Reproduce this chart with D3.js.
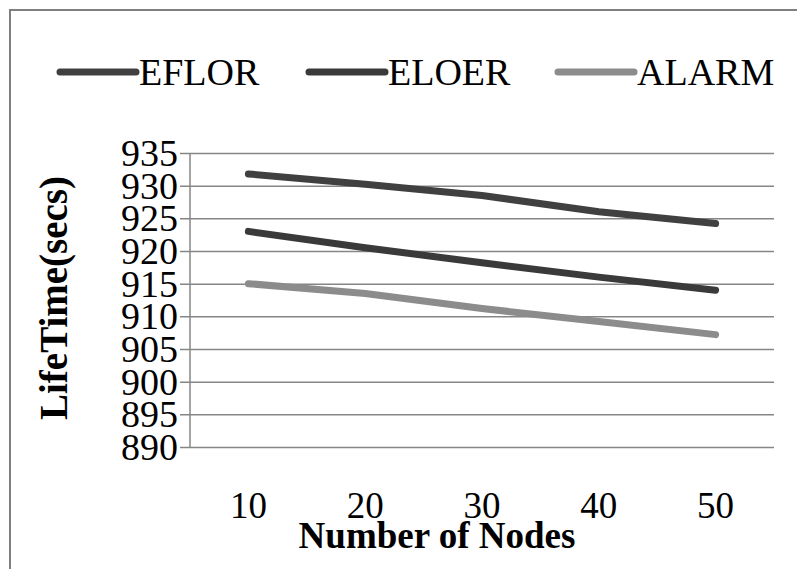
<!DOCTYPE html>
<html>
<head>
<meta charset="utf-8">
<script src="https://cdn.jsdelivr.net/npm/d3@7"></script>
<style>
    body { margin: 0; background: #fff; }
    svg { display: block; }
</style>
</head>
<body>
<div id="chart"></div>
<script>
const nodes = ["10", "20", "30", "40", "50"];
const eflor = [931.8, 930.2, 928.5, 926.0, 924.2];
const eloer = [923.0, 920.5, 918.2, 916.0, 914.0];
const alarm = [915.0, 913.5, 911.2, 909.2, 907.2];
const yTicks = [890, 895, 900, 905, 910, 915, 920, 925, 930, 935];

const series = [
    { name: "EFLOR", values: eflor, color: "#404040" },
    { name: "ELOER", values: eloer, color: "#3a3a3a" },
    { name: "ALARM", values: alarm, color: "#8c8c8c" }
];

const width = 797, height = 569;
const plot = { left: 190, right: 774, top: 153, bottom: 447 };

// font as a plain style string, single quoted name
const font = (size, bold) =>
    `font-family:'Liberation Serif';font-size:${size}px` + (bold ? ";font-weight:bold" : "");

const svg = d3.select("#chart").append("svg")
    .attr("width", width)
    .attr("height", height);

// outer frame, runs off the right and bottom edge
svg.append("rect")
    .attr("x", 10).attr("y", 10)
    .attr("width", 820).attr("height", 600)
    .attr("fill", "none")
    .attr("stroke", "#7f7f7f")
    .attr("stroke-width", 2);

const x = d3.scaleBand().domain(nodes).range([plot.left, plot.right]);
const y = d3.scaleLinear().domain([890, 935]).range([plot.bottom, plot.top]);

// gridlines + ticks
const yAxis = d3.axisLeft(y)
    .tickValues(yTicks)
    .tickSize(-(plot.right - plot.left))
    .tickSizeOuter(0)
    .tickFormat("");

const gy = svg.append("g")
    .attr("transform", `translate(${plot.left},0)`)
    .call(yAxis);
gy.select(".domain").remove();
gy.selectAll(".tick line")
    .attr("x1", -10)
    .attr("stroke", "#868686")
    .attr("stroke-width", 1.5);

svg.append("line")
    .attr("x1", plot.left).attr("x2", plot.left)
    .attr("y1", plot.top).attr("y2", plot.bottom)
    .attr("stroke", "#868686")
    .attr("stroke-width", 1.5);

svg.append("g").selectAll("text")
    .data(yTicks)
    .join("text")
    .attr("x", 178)
    .attr("y", d => y(d) + 13)
    .attr("text-anchor", "end")
    .attr("style", font(38))
    .text(d => d);

svg.append("g").selectAll("text")
    .data(nodes)
    .join("text")
    .attr("x", d => x(d) + x.bandwidth() / 2)
    .attr("y", 518)
    .attr("text-anchor", "middle")
    .attr("style", font(37))
    .text(d => d);

// axis titles
svg.append("text")
    .attr("x", 437)
    .attr("y", 548)
    .attr("text-anchor", "middle")
    .attr("style", font(37, true))
    .text("Number of Nodes");

svg.append("text")
    .attr("transform", "translate(67,298) rotate(-90)")
    .attr("text-anchor", "middle")
    .attr("style", font(39, true))
    .text("LifeTime(secs)");

// lines
const line = d3.line()
    .x((d, i) => x(nodes[i]) + x.bandwidth() / 2)
    .y(d => y(d));

svg.append("g").selectAll("path")
    .data(series)
    .join("path")
    .attr("d", d => line(d.values))
    .attr("fill", "none")
    .attr("stroke", d => d.color)
    .attr("stroke-width", 7)
    .attr("stroke-linecap", "round")
    .attr("stroke-linejoin", "round");

// legend
const legend = svg.append("g").selectAll("g")
    .data(series)
    .join("g")
    .attr("transform", (d, i) => `translate(${60 + i * 249},72)`);

legend.append("line")
    .attr("x1", 0).attr("x2", 76)
    .attr("stroke", d => d.color)
    .attr("stroke-width", 7)
    .attr("stroke-linecap", "round");

legend.append("text")
    .attr("x", 79)
    .attr("y", 13)
    .attr("style", font(38))
    .text(d => d.name);
</script>
</body>
</html>
